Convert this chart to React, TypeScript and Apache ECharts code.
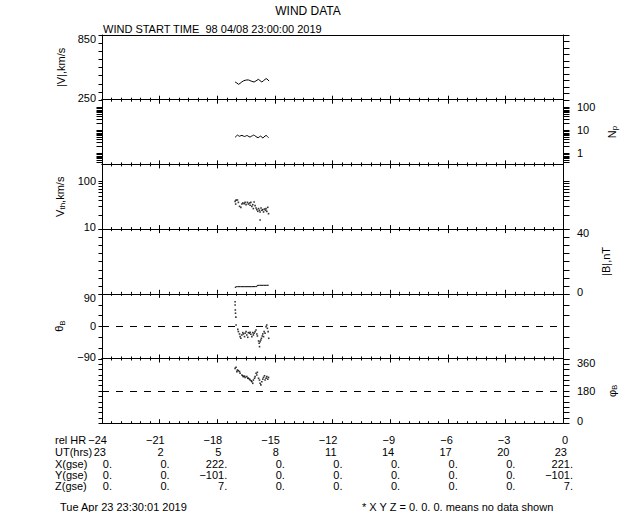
import React, { useEffect, useRef } from "react";
import * as echarts from "echarts";

// ---------- data ----------
const vTime = [-17.07, -16.98, -16.9, -16.82, -16.72, -16.64, -16.55, -16.46, -16.38, -16.3, -16.2, -16.08, -15.98, -15.86, -15.78, -15.68, -15.58, -15.5, -15.42, -15.36, -15.3];
const vMag = [414, 405, 393, 400, 415, 424, 430, 433, 433, 428, 420, 414, 425, 439, 428, 414, 428, 440, 445, 432, 424];

const npTime = [-17.07, -17.01, -16.95, -16.89, -16.83, -16.77, -16.71, -16.65, -16.59, -16.53, -16.47, -16.41, -16.35, -16.29, -16.23, -16.17, -16.11, -16.05, -15.99, -15.93, -15.87, -15.81, -15.75, -15.69, -15.63, -15.57, -15.51, -15.45, -15.39, -15.33];
const npVal = [5.0, 5.6, 6.2, 5.8, 5.5, 5.9, 6.0, 5.7, 5.4, 5.6, 5.9, 5.8, 5.3, 5.1, 5.5, 5.8, 6.2, 5.9, 5.4, 5.0, 4.8, 5.2, 5.6, 5.3, 4.6, 5.1, 5.7, 6.0, 5.4, 4.8];

const vthTime = [-17.07, -17.02, -16.95, -17.04, -16.9, -16.84, -16.77, -16.72, -16.67, -16.6, -16.55, -16.5, -16.43, -16.38, -16.32, -16.29, -16.25, -16.2, -16.15, -16.12, -16.08, -16.03, -15.98, -15.94, -15.89, -15.85, -15.8, -15.77, -15.72, -15.68, -15.63, -15.59, -15.54, -15.49, -15.46, -15.42, -15.37, -15.33, -15.77];
const vthVal = [38.0, 40.3, 40.6, 33.4, 36.2, 29.9, 28.5, 33.4, 35.1, 34.0, 36.2, 32.4, 36.2, 33.4, 35.1, 31.4, 36.2, 29.9, 32.4, 26.8, 36.8, 30.9, 27.6, 25.5, 23.5, 26.8, 24.7, 22.8, 27.6, 24.7, 25.5, 22.8, 26.3, 24.7, 26.8, 23.5, 28.5, 21.0, 15.5];

const bTime = [-17.07, -17.05, -16.95, -16.8, -16.6, -16.4, -16.2, -16.0, -15.94, -15.92, -15.8, -15.6, -15.45, -15.32];
const bVal = [3.6, 4.3, 4.4, 4.4, 4.4, 4.4, 4.4, 4.45, 4.45, 5.2, 5.25, 5.25, 5.25, 5.3];

const thTime = [-17.07, -17.07, -17.06, -17.05, -17.03, -17.02, -16.93, -16.9, -16.84, -16.81, -16.77, -16.72, -16.67, -16.64, -16.58, -16.55, -16.5, -16.46, -16.41, -16.38, -16.32, -16.29, -16.25, -16.2, -16.15, -16.12, -16.08, -16.03, -15.98, -15.94, -15.91, -15.85, -15.82, -15.8, -15.77, -15.73, -15.7, -15.66, -15.63, -15.59, -15.56, -15.51, -15.46, -15.42, -15.39, -15.35, -15.32];
const thVal = [68, 59, 45, 36, 25, 3, -8.9, -15.2, -21.7, -29.1, -33.8, -24.5, -18, -21.7, -29.1, -19.8, -15.2, -24.5, -31, -18, -19.8, -17.1, -22.6, -29.1, -18, -24.5, -19.8, -15.2, -10.6, -21.7, -27.3, -41.2, -47.7, -57, -43, -38.4, -33.8, -27.3, -21.7, -29.1, -15.2, -19.8, -1.3, 3.3, -6, -15.2, -33.8];

const phTime = [-17.07, -17.02, -16.98, -16.95, -16.9, -16.84, -16.81, -16.72, -16.67, -16.64, -16.58, -16.55, -16.46, -16.41, -16.38, -16.32, -16.29, -16.23, -16.2, -16.15, -16.12, -16.06, -16.03, -15.98, -15.94, -15.91, -15.85, -15.8, -15.77, -15.73, -15.68, -15.63, -15.59, -15.54, -15.51, -15.46, -15.42, -15.37, -15.33];
const phVal = [305, 311, 287, 296, 292, 287, 278, 268, 264, 259, 262, 255, 259, 250, 250, 245, 240, 236, 231, 222, 240, 250, 259, 278, 268, 283, 250, 240, 222, 213, 231, 245, 255, 264, 240, 250, 259, 245, 255];

// table
const relHr = [-24, -21, -18, -15, -12, -9, -6, -3, 0];
const utHrs = ["23", "2", "5", "8", "11", "14", "17", "20", "23"];
const xGse = ["0.", "0.", "222.", "0.", "0.", "0.", "0.", "0.", "221."];
const yGse = ["0.", "0.", "-101.", "0.", "0.", "0.", "0.", "0.", "-101."];
const zGse = ["0.", "0.", "7.", "0.", "0.", "0.", "0.", "0.", "7."];
const rowLabels = ["rel HR", "UT(hrs)", "X(gse)", "Y(gse)", "Z(gse)"];

// y-axis tick values
const vLeftTicks = [250, 325, 400, 475, 550, 625, 700, 775, 850];
const vRightTicks = [250, 310, 370, 430, 490, 550, 610, 670, 730, 790, 850];
const npTicks = [0.4, 0.5, 0.6, 0.7, 0.8, 0.9, 1, 2, 3, 4, 5, 6, 7, 8, 9, 10, 20, 30, 40, 50, 60, 70, 80, 90, 100];
const vthTicks = [10, 20, 30, 40, 50, 60, 70, 80, 90, 100];
const bTicks = [0, 5, 10, 15, 20, 25, 30, 35, 40];
const thTicks = [-90, -60, -30, 0, 30, 60, 90];
const phTicks = [0, 30, 60, 90, 120, 150, 180, 210, 240, 270, 300, 330, 360];

const FONT = "Liberation Sans";
const zip = (a: number[], b: number[]) => a.map((t, i) => [t, b[i]]);
const fmt = (v: number | string) => String(v).replace("-", "\u2212");

export default function App() {
  const ref = useRef<HTMLDivElement>(null);
  useEffect(() => {
    const chart = echarts.init(ref.current!, null, { renderer: "svg" });
    const top0 = 35;
    const H = 64.7;
    const grids = [0, 1, 2, 3, 4, 5].map((i) => ({
      left: 102,
      right: 77,
      top: top0 + i * H,
      height: H,
    }));
    const black = "#000";
    const xAxes: any[] = [];
    grids.forEach((_, i) => {
      const base = {
        type: "value",
        gridIndex: i,
        min: -24,
        max: 0,
        interval: 3,
        axisLine: { onZero: false, lineStyle: { color: black, width: 1 } },
        axisLabel: { show: false },
        splitLine: { show: false },
        axisTick: { show: true, inside: true, length: 4, lineStyle: { color: black } },
        minorTick: { show: true, splitNumber: 6, length: 2, lineStyle: { color: black } },
      };
      xAxes.push({ ...base, position: "bottom" });
      if (i === 0) {
        xAxes.push({ ...base, position: "top", axisTick: { show: false }, minorTick: { show: false } });
      } else {
        xAxes.push({ ...base, position: "top" });
      }
    });

    const nameRich = {
      a: { fontFamily: FONT, fontSize: 11, color: black, lineHeight: 14 },
      s: { fontFamily: FONT, fontSize: 8, color: black, lineHeight: 14, verticalAlign: "bottom" },
    };
    const labRich = {
      t: { fontFamily: FONT, fontSize: 11, color: black, padding: [8, 0, 0, 0] },
      b: { fontFamily: FONT, fontSize: 11, color: black, padding: [0, 0, 4, 0] },
      m: { fontFamily: FONT, fontSize: 11, color: black },
    };

    type YO = { type?: string; min: number; max: number; interval?: number; labels?: number[]; name?: string };
    const yAx = (grid: number, pos: "left" | "right", o: YO) => {
      const ax: any = {
        type: o.type || "value",
        gridIndex: grid,
        position: pos,
        min: o.min,
        max: o.max,
        axisLine: { show: true, onZero: false, lineStyle: { color: black, width: 1 } },
        splitLine: { show: false },
        axisTick: { show: false },
      };
      if (o.interval) ax.interval = o.interval;
      if (o.type === "log") ax.logBase = 10;
      if (o.labels) {
        const labs = o.labels;
        ax.axisLabel = {
          show: true,
          margin: pos === "left" ? 6 : 14,
          rich: labRich,
          formatter: (v: number) => {
            if (!labs.some((l) => Math.abs(l - v) < 1e-6)) return "";
            const key = Math.abs(v - o.max) < 1e-6 ? "t" : Math.abs(v - o.min) < 1e-6 ? "b" : "m";
            return `{${key}|${fmt(v)}}`;
          },
        };
        if (o.type === "log") ax.axisLabel.customValues = labs;
      } else {
        ax.axisLabel = { show: false };
      }
      if (o.name) {
        ax.name = o.name;
        ax.nameLocation = "middle";
        ax.nameRotate = 90;
        ax.nameGap = pos === "left" ? 34 : 26;
        ax.nameTextStyle = { rich: nameRich };
      }
      return ax;
    };

    const yAxes = [
      yAx(0, "left", { min: 250, max: 850, interval: 75, labels: [250, 850], name: "{a||V|,km/s}" }),
      yAx(0, "right", { min: 250, max: 850, interval: 60 }),
      yAx(1, "left", { type: "log", min: 0.33, max: 215 }),
      yAx(1, "right", { type: "log", min: 0.33, max: 215, labels: [1, 10, 100], name: "{a|N}{s|p}" }),
      yAx(2, "left", { type: "log", min: 10, max: 225, labels: [10, 100], name: "{a|V}{s|th}{a|,km/s}" }),
      yAx(2, "right", { type: "log", min: 10, max: 225 }),
      yAx(3, "left", { min: 0, max: 40, interval: 5 }),
      yAx(3, "right", { min: 0, max: 40, interval: 5, labels: [0, 40], name: "{a||B|,nT}" }),
      yAx(4, "left", { min: -90, max: 90, interval: 30, labels: [-90, 0, 90], name: "{a|θ}{s|B}" }),
      yAx(4, "right", { min: -90, max: 90, interval: 30 }),
      yAx(5, "left", { min: 0, max: 360, interval: 30 }),
      yAx(5, "right", { min: 0, max: 360, interval: 30, labels: [0, 180, 360], name: "{a|φ}{s|B}" }),
    ];

    // tick specs per y axis: [axisIndex, side, values, length]
    const tickSpecs: [number, "L" | "R", number[], number][] = [
      [0, "L", vLeftTicks, 4],
      [1, "R", vRightTicks, 6],
      [2, "L", npTicks, 6],
      [3, "R", npTicks, 6],
      [4, "L", vthTicks, 4],
      [5, "R", vthTicks, 6],
      [6, "L", bTicks, 4],
      [7, "R", bTicks, 6],
      [8, "L", thTicks, 4],
      [9, "R", thTicks, 6],
      [10, "L", phTicks, 4],
      [11, "R", phTicks, 6],
    ];

    const dashed = (v: number) => ({
      silent: true,
      symbol: "none",
      label: { show: false },
      lineStyle: { color: black, type: [7, 7], width: 1 },
      data: [{ yAxis: v }],
    });

    const series: any[] = [
      { type: "line", xAxisIndex: 0, yAxisIndex: 0, data: zip(vTime, vMag), symbol: "none", lineStyle: { color: black, width: 1 } },
      { type: "line", xAxisIndex: 2, yAxisIndex: 3, data: zip(npTime, npVal), symbol: "none", lineStyle: { color: black, width: 1 } },
      { type: "scatter", xAxisIndex: 4, yAxisIndex: 4, data: zip(vthTime, vthVal), symbol: "rect", symbolSize: 1.6, itemStyle: { color: black } },
      { type: "line", xAxisIndex: 6, yAxisIndex: 7, data: zip(bTime, bVal), symbol: "none", lineStyle: { color: black, width: 1 } },
      { type: "scatter", xAxisIndex: 8, yAxisIndex: 8, data: zip(thTime, thVal), symbol: "rect", symbolSize: 1.6, itemStyle: { color: black }, markLine: dashed(0) },
      { type: "scatter", xAxisIndex: 10, yAxisIndex: 11, data: zip(phTime, phVal), symbol: "rect", symbolSize: 1.6, itemStyle: { color: black }, markLine: dashed(180) },
    ];

    chart.setOption({
      animation: false,
      backgroundColor: "#fff",
      grid: grids,
      xAxis: xAxes,
      yAxis: yAxes,
      series,
    });

    const px = (h: number) => chart.convertToPixel({ xAxisIndex: 10 }, h) as number;
    const txt = (x: number, y: number, s: string, align: string = "left", size = 11) => ({
      type: "text",
      x,
      y,
      style: { text: s, fill: black, font: `${size}px "${FONT}"`, textAlign: align, textVerticalAlign: "middle" },
    });
    const g: any[] = [];

    // y-axis ticks, placed through each axis' own scale (a single polyline-free path per tick)
    const xL = Math.round(px(-24)) + 0.5;
    const xR = Math.round(px(0)) + 0.5;
    tickSpecs.forEach(([ai, side, vals, len]) => {
      vals.forEach((v) => {
        const raw = chart.convertToPixel({ yAxisIndex: ai }, v) as any;
        const yv = Array.isArray(raw) ? raw[1] : raw;
        const yy = Math.round(yv) + 0.5;
        const x0 = side === "L" ? xL : xR;
        const x1 = side === "L" ? xL - len : xR + len;
        g.push({ type: "line", silent: true, z: 100, shape: { x1: x0, y1: yy, x2: x1, y2: yy }, style: { stroke: black, lineWidth: 1 } });
      });
    });

    g.push(txt(308, 11, "WIND DATA", "center", 12));
    g.push(txt(103, 29, "WIND START TIME  98 04/08 23:00:00 2019", "left", 11));
    const rowsY = [440, 452, 464, 475, 486];
    rowLabels.forEach((l, i) => g.push(txt(55, rowsY[i], l)));
    relHr.forEach((h, i) => {
      const x = px(h);
      g.push(txt(x + 5, rowsY[0], fmt(h), "right"));
      g.push(txt(x + 4, rowsY[1], utHrs[i], "right"));
      g.push(txt(x + 10, rowsY[2], fmt(xGse[i]), "right"));
      g.push(txt(x + 10, rowsY[3], fmt(yGse[i]), "right"));
      g.push(txt(x + 10, rowsY[4], fmt(zGse[i]), "right"));
    });
    g.push(txt(60, 507, "Tue Apr 23 23:30:01 2019"));
    g.push(txt(362, 507, "* X Y Z = 0. 0. 0. means no data shown"));
    chart.setOption({ graphic: g });

    return () => chart.dispose();
  }, []);
  return <div ref={ref} style={{ position: "absolute", left: 0, top: 0, width: 640, height: 512 }} />;
}
